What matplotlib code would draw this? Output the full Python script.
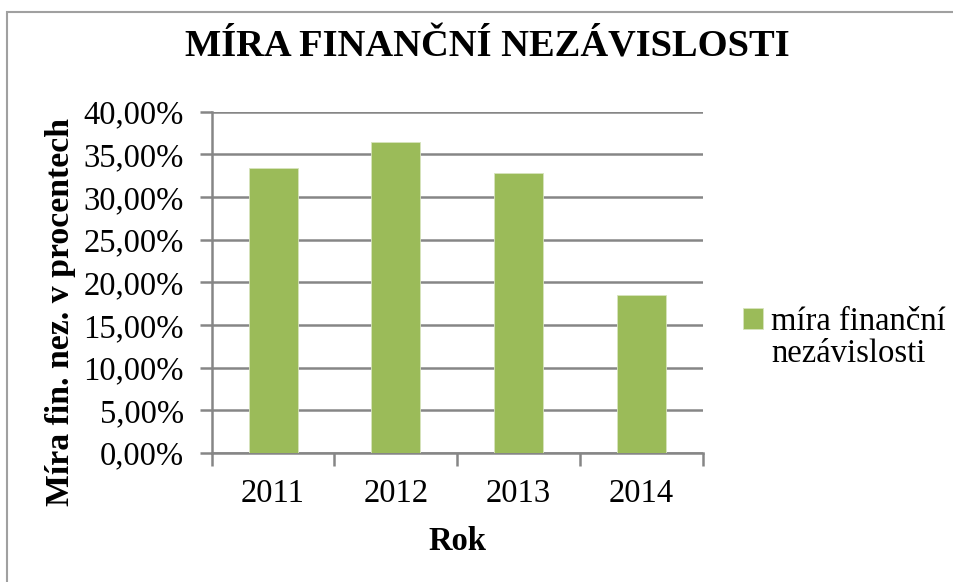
import matplotlib
matplotlib.use('Agg')
import matplotlib.pyplot as plt
from matplotlib.ticker import FuncFormatter
from matplotlib.patches import Rectangle

years = ['2011', '2012', '2013', '2014']
values = [33.37, 36.49, 32.86, 18.52]
yticks = [0, 5, 10, 15, 20, 25, 30, 35, 40]

plt.rcParams['font.family'] = ['Liberation Serif', 'DejaVu Serif']

fig = plt.figure(figsize=(9.54, 5.82), dpi=100)
ax = fig.add_axes([0.2219, 0.2216, 0.5147, 0.5864])

grey = '#868686'
green = '#9BBB59'
x = range(len(years))
bars = ax.bar(x, values, width=0.4, color=green, edgecolor='#D7E4BD', linewidth=0.6, zorder=3)

ax.set_xlim(-0.5, len(years) - 0.5)
ax.set_ylim(0, 40)
ax.set_yticks(yticks)
ax.yaxis.set_major_formatter(FuncFormatter(lambda v, p: ('%.2f' % v).replace('.', ',') + '%'))
ax.set_xticks(list(x))
ax.set_xticklabels(years)
ax.set_xticks([i - 0.5 for i in range(len(years) + 1)], minor=True)
ax.tick_params(axis='x', which='major', length=0, labelsize=23.5, pad=18.5)
ax.tick_params(axis='x', which='minor', length=9, width=1.8, color=grey)
ax.tick_params(axis='y', length=9, width=1.8, color=grey, labelsize=23.5, pad=11)
ax.grid(axis='y', color=grey, linewidth=1.8, zorder=0)

for s in ['top', 'right']:
    ax.spines[s].set_visible(False)
for s in ['left', 'bottom']:
    ax.spines[s].set_color(grey)
    ax.spines[s].set_linewidth(1.8)

ax.set_xlabel('Rok', fontsize=23.5, fontweight='bold', labelpad=12)
ax.set_ylabel('Míra fin. nez. v procentech', fontsize=24.3, fontweight='bold')
ax.yaxis.set_label_coords(-0.2764, 0.413)

fig.text(0.5105, 0.919, 'MÍRA FINANČNÍ NEZÁVISLOSTI', ha='center', va='center',
         fontsize=27.7, fontweight='bold')

# Excel-style legend: square beside the first line of the wrapped label
blank = Rectangle((0, 0), 1, 1, fill=False, edgecolor='none')
ax.legend([bars, blank], ['míra finanční', 'nezávislosti'],
          loc='center left', bbox_to_anchor=(0.7793, 0.42), bbox_transform=fig.transFigure,
          frameon=False, fontsize=23.5, handlelength=0.6, handleheight=0.6,
          handletextpad=0.25, labelspacing=0.05, borderpad=0, borderaxespad=0)

fig.patches.append(Rectangle((7 / 954, -0.05), 1.0, 1.05 - 12 / 582,
                             transform=fig.transFigure, fill=False,
                             edgecolor='#A0A0A0', linewidth=1.5))

fig.savefig('out.png', dpi=100)
